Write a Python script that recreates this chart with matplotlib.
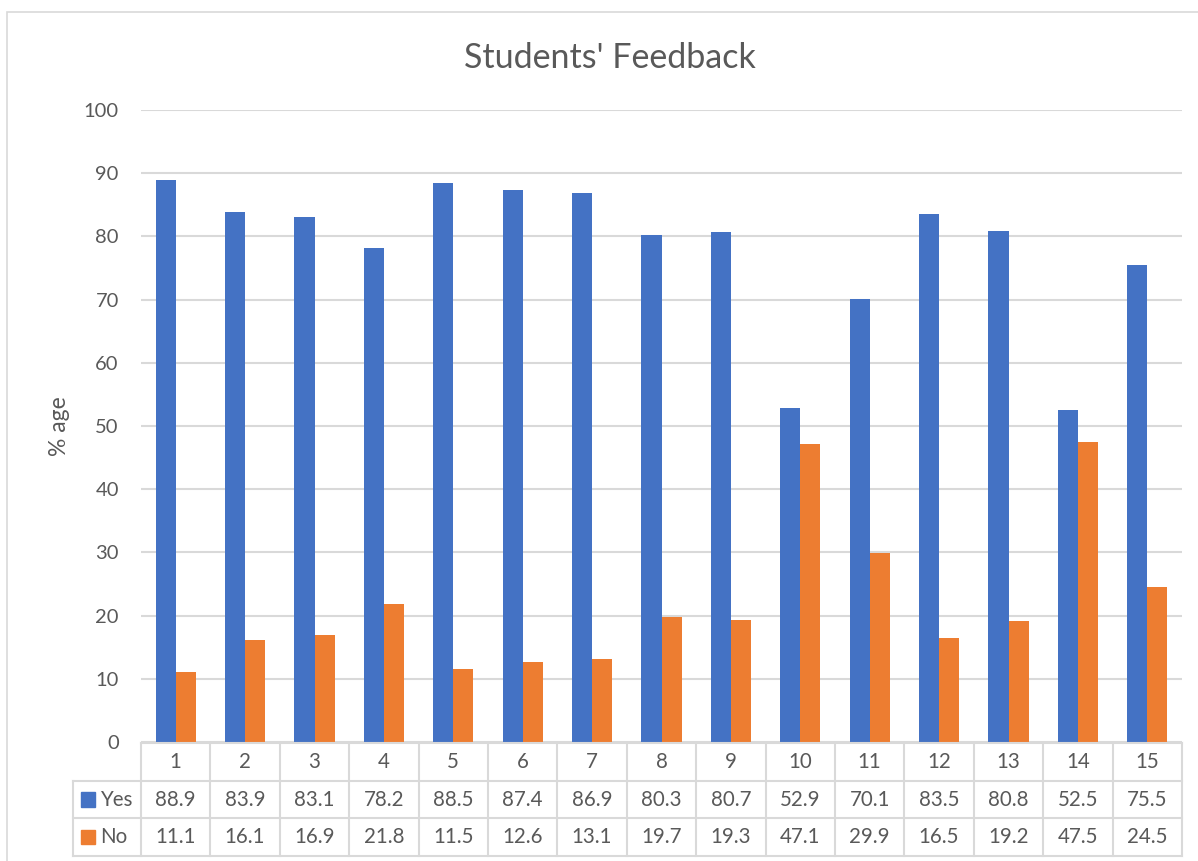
import numpy as np
import matplotlib
matplotlib.use("Agg")
from matplotlib import pyplot as plt
from matplotlib.patches import Rectangle

categories = [str(i) for i in range(1, 16)]
yes_values = [88.9, 83.9, 83.1, 78.2, 88.5, 87.4, 86.9, 80.3, 80.7, 52.9, 70.1, 83.5, 80.8, 52.5, 75.5]
no_values = [11.1, 16.1, 16.9, 21.8, 11.5, 12.6, 13.1, 19.7, 19.3, 47.1, 29.9, 16.5, 19.2, 47.5, 24.5]
series_names = ["Yes", "No"]
colors = ["#4472C4", "#ED7D31"]
y_ticks = np.arange(0, 101, 10)

plt.rcParams["font.family"] = ["Lato", "DejaVu Sans"]
text_color = "#595959"
line_color = "#D9D9D9"

W, H = 1198, 861
fig = plt.figure(figsize=(W / 100, H / 100), dpi=100)

# outer chart border
fig.patches.append(Rectangle((7 / W, -0.1), 1.2, (H - 12) / H + 0.1, transform=fig.transFigure,
                             fill=False, edgecolor=line_color, lw=1.2))

left, right = 141, 1182
ax = fig.add_axes([left / W, (H - 742) / H, (right - left) / W, (742 - 110) / H])
x = np.arange(len(categories))
w = 0.29
ax.bar(x - w / 2, yes_values, w, color=colors[0], zorder=3)
ax.bar(x + w / 2, no_values, w, color=colors[1], zorder=3)
ax.set_xlim(-0.5, len(categories) - 0.5)
ax.set_ylim(0, 100)
ax.set_yticks(y_ticks)
ax.set_xticks([])
ax.tick_params(axis="y", length=0, pad=16, labelsize=14.5, labelcolor=text_color)
ax.grid(axis="y", color=line_color, lw=1.5, zorder=0)
for s in ax.spines.values():
    s.set_visible(False)
ax.set_ylabel("% age", fontsize=16.5, color=text_color, labelpad=10)
fig.text(610 / W, 1 - 58 / H, "Students' Feedback", ha="center", va="center",
         fontsize=24.5, color=text_color)

# data table below the plot
tab = fig.add_axes([left / W, (H - 856) / H, (right - left) / W, (856 - 743) / H])
tab.set_xlim(-0.5, len(categories) - 0.5)
tab.set_ylim(3, 0)
tab.axis("off")
leg_left = -0.5 - 68 / ((right - left) / len(categories))
n = len(categories)
lk = dict(color=line_color, lw=1.5, clip_on=False)
tab.plot([-0.5, n - 0.5], [0, 0], **lk)
for r in (1, 2, 3):
    tab.plot([leg_left, n - 0.5], [r, r], **lk)
for b in np.arange(-0.5, n, 1.0):
    tab.plot([b, b], [0, 3], **lk)
tab.plot([leg_left, leg_left], [1, 3], **lk)

fs = 14.8
for i, c in enumerate(categories):
    tab.text(i, 0.5, c, ha="center", va="center", fontsize=fs, color=text_color)
    tab.text(i, 1.5, f"{yes_values[i]:.1f}", ha="center", va="center", fontsize=fs, color=text_color)
    tab.text(i, 2.5, f"{no_values[i]:.1f}", ha="center", va="center", fontsize=fs, color=text_color)

unit = (right - left) / n
for r, (name, col) in enumerate(zip(series_names, colors)):
    sq_x = leg_left + 8 / unit
    tab.add_patch(Rectangle((sq_x, 1.5 + r - 0.19), 14 / unit, 0.38, color=col, clip_on=False))
    tab.text(leg_left + 27 / unit, 1.5 + r, name, ha="left", va="center", fontsize=fs, color=text_color)

fig.savefig("out.png", dpi=100)
